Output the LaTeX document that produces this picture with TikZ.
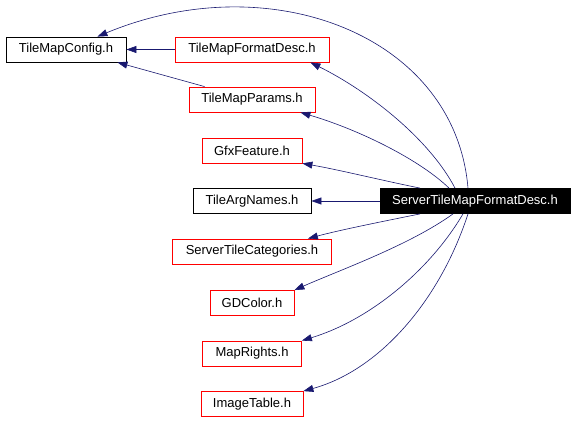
\documentclass[tikz,border=0pt]{standalone}
\usepackage{fontspec}
\setmainfont{Liberation Sans}
\usetikzlibrary{arrows.meta}
\definecolor{edgeblue}{HTML}{191970}
\tikzset{
  box/.style={draw=black, line width=0.8pt, minimum height=25pt, inner sep=0pt, font=\fontsize{13}{15}\selectfont, fill=white},
  redbox/.style={box, draw=red},
  darkbox/.style={box, fill=black, text=white},
  edge/.style={draw=edgeblue, line width=0.6pt, -{Triangle[length=10pt,width=7pt]}}
}
\begin{document}
\begin{tikzpicture}[x=1pt,y=-1pt]
\useasboundingbox (0,0) rectangle (576,422);
\node[box, minimum width=120pt] (cfg) at (66,49.5) {TileMapConfig.h};
\node[redbox, minimum width=154pt] (tfd) at (252,49.5) {TileMapFormatDesc.h};
\node[redbox, minimum width=126pt] (tmp) at (252,99.5) {TileMapParams.h};
\node[redbox, minimum width=100pt] (gfx) at (252,150.5) {GfxFeature.h};
\node[box, minimum width=118pt] (tan) at (252,201) {TileArgNames.h};
\node[darkbox, minimum width=190pt] (stm) at (475,201) {ServerTileMapFormatDesc.h};
\node[redbox, minimum width=159pt] (stc) at (252,251.5) {ServerTileCategories.h};
\node[redbox, minimum width=84pt] (gdc) at (252,303) {GDColor.h};
\node[redbox, minimum width=99pt] (mr) at (252,353.5) {MapRights.h};
\node[redbox, minimum width=102pt] (it) at (252,404) {ImageTable.h};

\draw[edge] ([xshift=-7pt]stm.north) .. controls (455,35) and (270,-35) .. ([xshift=-29pt]cfg.north east);
\draw[edge] ([xshift=-20pt]stm.north) .. controls (430,140) and (370,92) .. ([xshift=-19pt]tfd.south east);
\draw[edge] ([xshift=-26pt]stm.north) .. controls (420,160) and (360,130) .. ([xshift=-15pt]tmp.south east);
\draw[edge] ([xshift=-55pt]stm.north) .. controls (380,180) and (340,170) .. (gfx.south east);
\draw[edge] (stm.west) -- (tan.east);
\draw[edge] ([xshift=-55pt]stm.south) .. controls (380,222) and (340,230) .. ([xshift=-24pt]stc.north east);
\draw[edge] ([xshift=-22pt]stm.south) .. controls (410,245) and (340,270) .. (gdc.north east);
\draw[edge] ([xshift=-12pt]stm.south) .. controls (430,270) and (370,320) .. (mr.north east);
\draw[edge] ([xshift=-7pt]stm.south) .. controls (440,300) and (380,370) .. (it.north east);
\draw[edge] (tfd.west) -- (cfg.east);
\draw[edge] ([xshift=16pt]tmp.north west) -- ([xshift=-9pt]cfg.south east);
\end{tikzpicture}
\end{document}
